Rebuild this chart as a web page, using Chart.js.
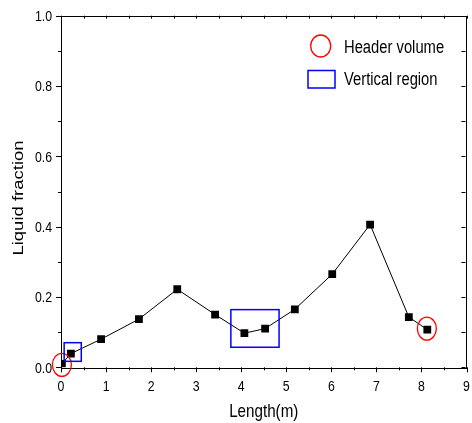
<!DOCTYPE html>
<html><head><meta charset="utf-8">
<script src="https://cdn.jsdelivr.net/npm/chart.js@4.4.0/dist/chart.umd.min.js"></script>
<style>html,body{margin:0;padding:0;background:#fff;}#wrap{width:472px;height:423px;}</style>
</head><body><div id="wrap"><canvas id="c" width="472" height="423"></canvas></div>
<script>
// ---- data ----
const lengthM = [0.02, 0.22, 0.89, 1.73, 2.58, 3.42, 4.07, 4.53, 5.19, 6.02, 6.86, 7.72, 8.13];
const liquidFraction = [0.010, 0.039, 0.080, 0.137, 0.222, 0.150, 0.097, 0.110, 0.165, 0.265, 0.406, 0.143, 0.107];
const xTickValues = [0, 1, 2, 3, 4, 5, 6, 7, 8, 9];
const yTickValues = [0.0, 0.2, 0.4, 0.6, 0.8, 1.0];
const headerVolumeMarks = [[0.02, 0.007], [8.12, 0.110]];          // [x, y] centres
const verticalRegionBoxes = [[0.07, 0.45, 0.017, 0.070], [3.77, 4.84, 0.057, 0.164]]; // [x0,x1,y0,y1]
const legendLabels = ['Header volume', 'Vertical region'];
const xTitle = 'Length(m)';
const yTitle = 'Liquid fraction';

const FONT = "'Liberation Sans', Arial, sans-serif";
const SQ = 0.82; // horizontal squeeze of the reference lettering

function squeezedText(ctx, text, px, py, size, align) {
  ctx.save();
  ctx.font = size + 'px ' + FONT;
  ctx.textAlign = align;
  ctx.textBaseline = 'alphabetic';
  ctx.translate(px, py);
  ctx.scale(SQ, 1);
  ctx.fillText(text, 0, 0);
  ctx.restore();
}

const framePlugin = {
  id: 'frame',
  beforeDatasetsDraw(chart) {
    const {ctx, chartArea: a, scales: {x, y}} = chart;
    ctx.save();
    ctx.strokeStyle = '#000';
    ctx.lineWidth = 1;
    ctx.strokeRect(Math.round(a.left) + 0.5, Math.round(a.top) + 0.5, Math.round(a.right - a.left) - 1, Math.round(a.bottom - a.top));
    ctx.beginPath();
    for (let v = 0; v <= 9.0001; v += 0.5) {
      const px = Math.round(x.getPixelForValue(v)) + 0.5;
      const major = Math.abs(v - Math.round(v)) < 1e-6;
      ctx.moveTo(px, a.bottom); ctx.lineTo(px, a.bottom + (major ? 5 : 3));
      ctx.moveTo(px, a.top); ctx.lineTo(px, a.top + 3);
    }
    for (let i = 0; i <= 10; i++) {
      const v = i / 10;
      const py = Math.round(y.getPixelForValue(v)) + 0.5;
      const major = i % 2 === 0;
      ctx.moveTo(a.left, py); ctx.lineTo(a.left - (major ? 5 : 3), py);
      ctx.moveTo(a.right - 1, py); ctx.lineTo(a.right - 5, py);
    }
    ctx.stroke();
    // tick labels
    ctx.fillStyle = '#000';
    xTickValues.forEach(v => squeezedText(ctx, String(v), x.getPixelForValue(v), 390.5, 15, 'center'));
    yTickValues.forEach(v => squeezedText(ctx, v.toFixed(1), 52, y.getPixelForValue(v) + 5.4, 15, 'right'));
    ctx.restore();
  },
  afterDatasetsDraw(chart) {
    const {ctx, chartArea: a, scales: {x, y}} = chart;
    ctx.save();
    // header volume ellipses
    ctx.strokeStyle = '#ff0000';
    ctx.lineWidth = 1.3;
    headerVolumeMarks.forEach(([vx, vy]) => {
      ctx.beginPath();
      ctx.ellipse(x.getPixelForValue(vx), y.getPixelForValue(vy), 9.5, 11.5, 0, 0, Math.PI * 2);
      ctx.stroke();
    });
    // vertical region boxes
    ctx.strokeStyle = '#0000ff';
    ctx.lineWidth = 1.5;
    verticalRegionBoxes.forEach(([x0, x1, y0, y1]) => {
      const px0 = x.getPixelForValue(x0), px1 = x.getPixelForValue(x1);
      const py0 = y.getPixelForValue(y1), py1 = y.getPixelForValue(y0);
      ctx.strokeRect(px0, py0, px1 - px0, py1 - py0);
    });
    // legend
    ctx.strokeStyle = '#ff0000'; ctx.lineWidth = 1.3;
    ctx.beginPath(); ctx.ellipse(320.7, 46, 10, 11, 0, 0, Math.PI * 2); ctx.stroke();
    ctx.strokeStyle = '#0000ff'; ctx.lineWidth = 1.5;
    ctx.strokeRect(308, 70.5, 27, 17.5);
    ctx.fillStyle = '#000';
    squeezedText(ctx, legendLabels[0], 344, 53.2, 18, 'left');
    squeezedText(ctx, legendLabels[1], 344, 85, 18, 'left');
    // axis titles
    squeezedText(ctx, xTitle, (a.left + a.right) / 2, 416.5, 18.5, 'center');
    ctx.save();
    ctx.font = '18.5px ' + FONT;
    ctx.textAlign = 'center'; ctx.textBaseline = 'alphabetic';
    ctx.translate(22.5, 198);
    ctx.rotate(-Math.PI / 2);
    ctx.scale(1, SQ);
    ctx.fillText(yTitle, 0, 0);
    ctx.restore();
    ctx.restore();
  }
};

new Chart(document.getElementById('c'), {
  type: 'scatter',
  data: {
    datasets: [{
      label: 'Liquid fraction',
      data: lengthM.map((v, i) => ({x: v, y: liquidFraction[i]})),
      showLine: true,
      borderColor: '#000',
      borderWidth: 1,
      backgroundColor: '#000',
      pointStyle: 'rect',
      pointRadius: 5.5,
      pointHoverRadius: 5.5,
      pointBorderWidth: 0,
      tension: 0
    }]
  },
  options: {
    responsive: false,
    animation: false,
    events: [],
    layout: {padding: {top: 15.7, right: 1.5, left: 0, bottom: 0}},
    plugins: {legend: {display: false}, tooltip: {enabled: false}},
    scales: {
      x: {
        type: 'linear', min: 0, max: 9,
        afterBuildTicks: s => { s.ticks = xTickValues.map(v => ({value: v})); },
        grid: {display: false}, border: {display: false},
        ticks: {display: false},
        afterFit: s => { s.height = 55.7; s.paddingLeft = 0; s.paddingRight = 0; }
      },
      y: {
        type: 'linear', min: 0, max: 1,
        afterBuildTicks: s => { s.ticks = yTickValues.map(v => ({value: v})); },
        grid: {display: false}, border: {display: false},
        ticks: {display: false},
        afterFit: s => { s.width = 61; s.paddingTop = 0; s.paddingBottom = 0; }
      }
    }
  },
  plugins: [framePlugin]
});
</script>
</body></html>
